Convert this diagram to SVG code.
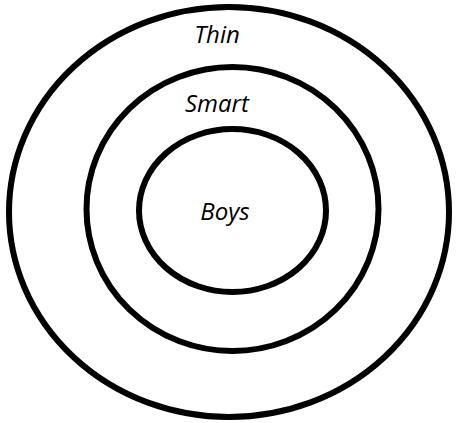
<svg xmlns="http://www.w3.org/2000/svg" width="456" height="423" viewBox="0 0 456 423">
<style>
.ring{fill:none;stroke:#000;stroke-width:6}
.lbl{font-family:"Open Sans","Liberation Sans",sans-serif;font-style:italic;font-size:24px;fill:#000;text-anchor:middle}
</style>
<rect width="456" height="423" fill="#fff"/>
<g id="thin">
<ellipse class="ring" cx="229" cy="212" rx="220" ry="205"/>
<text class="lbl" x="217" y="43">Thin</text>
</g>
<g id="smart">
<ellipse class="ring" cx="232.5" cy="209" rx="146" ry="142"/>
<text class="lbl" x="217" y="112">Smart</text>
</g>
<g id="boys">
<ellipse class="ring" cx="232.5" cy="210.5" rx="93.5" ry="81.5"/>
<text class="lbl" x="225" y="220">Boys</text>
</g>
<g id="connectors"/>
</svg>
